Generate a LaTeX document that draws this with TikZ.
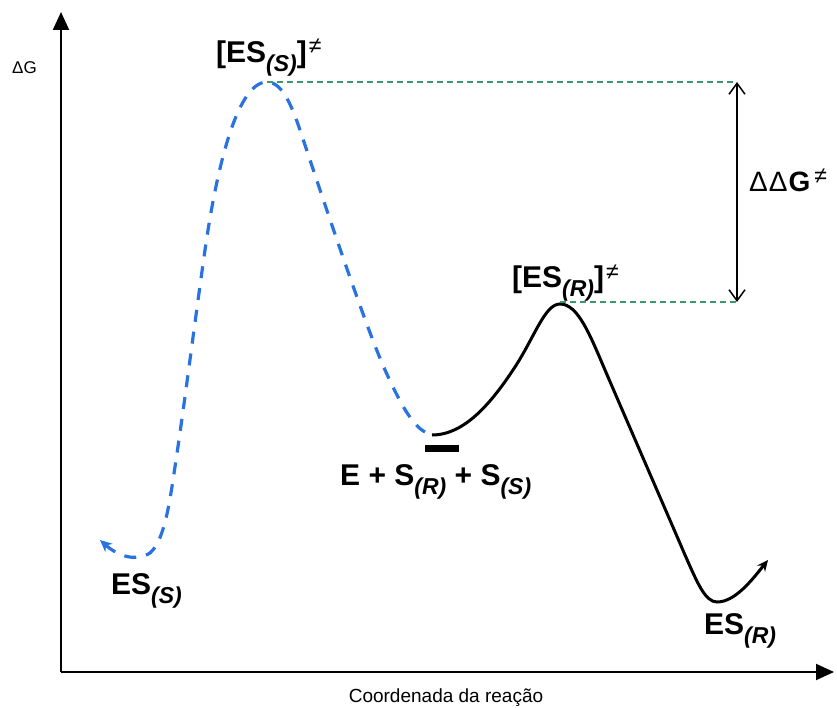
\documentclass[tikz,border=0pt]{standalone}
\usepackage{fontspec}
\setmainfont{Liberation Sans}
\usetikzlibrary{arrows.meta}
\definecolor{curveblue}{RGB}{40,115,225}
\definecolor{guidegreen}{RGB}{60,150,110}
\newcommand{\subx}[1]{\raisebox{-0.3em}{\fontsize{23}{23}\selectfont\itshape(#1)}}
\newcommand{\neqsup}{\kern2pt\raisebox{0.3em}{\fontsize{23}{23}\selectfont\mdseries ≠}}
\begin{document}
\begin{tikzpicture}[x=1pt,y=-1pt,
  axis/.style={line width=2pt,-{Triangle[length=18pt,width=16pt]}},
  bluecurve/.style={curveblue,line width=3.2pt,dash pattern=on 12pt off 10pt,line cap=butt},
  blackcurve/.style={black,line width=3pt},
  guide/.style={guidegreen,line width=1.5pt,dash pattern=on 6pt off 4pt},
  dbl/.style={line width=1.5pt,{Straight Barb[length=11pt,width=16pt]}-{Straight Barb[length=11pt,width=16pt]}},
  lab/.style={font=\bfseries\fontsize{30}{30}\selectfont,inner sep=0pt,anchor=base west},
]
\useasboundingbox (0,0) rectangle (837,708);
% axes
\coordinate (o) at (61,672);
\coordinate (ytop) at (61,12);
\coordinate (xend) at (834,672);
\draw[axis] (o) -- (ytop);
\draw[axis] (o) -- (xend);
\node[inner sep=0pt,anchor=base west,font=\fontsize{17}{17}\selectfont] (dg) at (12,74) {ΔG};
\node[inner sep=0pt,anchor=base,font=\fontsize{19}{19}\selectfont] (xl) at (446,702) {Coordenada da reação};
% key points
\coordinate (bS) at (100,540);
\coordinate (tsS) at (267,82);
\coordinate (bE) at (425,432);
\coordinate (bR0) at (432,435);
\coordinate (tsR) at (560,304);
\coordinate (mR) at (717,602);
\coordinate (eR) at (768,560);
\coordinate (gtop) at (737,82);
\coordinate (gbot) at (737,302);
% blue dashed curve
\draw[bluecurve,{Stealth[length=12pt,width=11pt]}-] (bS)
  .. controls (118,556) and (135,562) .. (150,553)
  .. controls (165,540) and (170,500) .. (176,460)
  .. controls (185,400) and (195,320) .. (205,250)
  .. controls (215,180) and (235,82) .. (tsS)
  .. controls (285,82) and (295,115) .. (305,145)
  .. controls (325,205) and (365,325) .. (385,370)
  .. controls (400,403) and (412,425) .. (bE);
% bar
\coordinate (barL) at (425,448);
\coordinate (barR) at (459,448);
\draw[line width=7pt] (barL) -- (barR);
% black curve
\draw[blackcurve,-{Stealth[length=11pt,width=10pt]}] (bR0)
  .. controls (465,435) and (492,402) .. (515,367)
  .. controls (535,336) and (545,304) .. (tsR)
  .. controls (578,304) and (590,335) .. (605,370)
  .. controls (620,405) and (670,520) .. (685,555)
  .. controls (697,582) and (705,602) .. (mR)
  .. controls (735,602) and (752,580) .. (eR);
% guides
\draw[guide] (tsS) -- (gtop);
\draw[guide] (560,302) -- (gbot);
\draw[dbl] (gtop) -- (gbot);
\node[inner sep=0pt,anchor=base west,font=\bfseries\fontsize{28}{28}\selectfont] (ddg) at (749,192) {{\mdseries Δ\kern1ptΔ}\kern1ptG\kern2pt\neqsup};
% labels
\node[lab] (lS) at (216,63) {[ES\subx{S}]\neqsup};
\node[lab] (lR) at (512,288) {[ES\subx{R}]\neqsup};
\node[lab] (lE) at (340,485) {E + S\subx{R} + S\subx{S}};
\node[lab] (lES) at (111,594) {ES\subx{S}};
\node[lab] (lER) at (704,634) {ES\subx{R}};
\end{tikzpicture}
\end{document}
